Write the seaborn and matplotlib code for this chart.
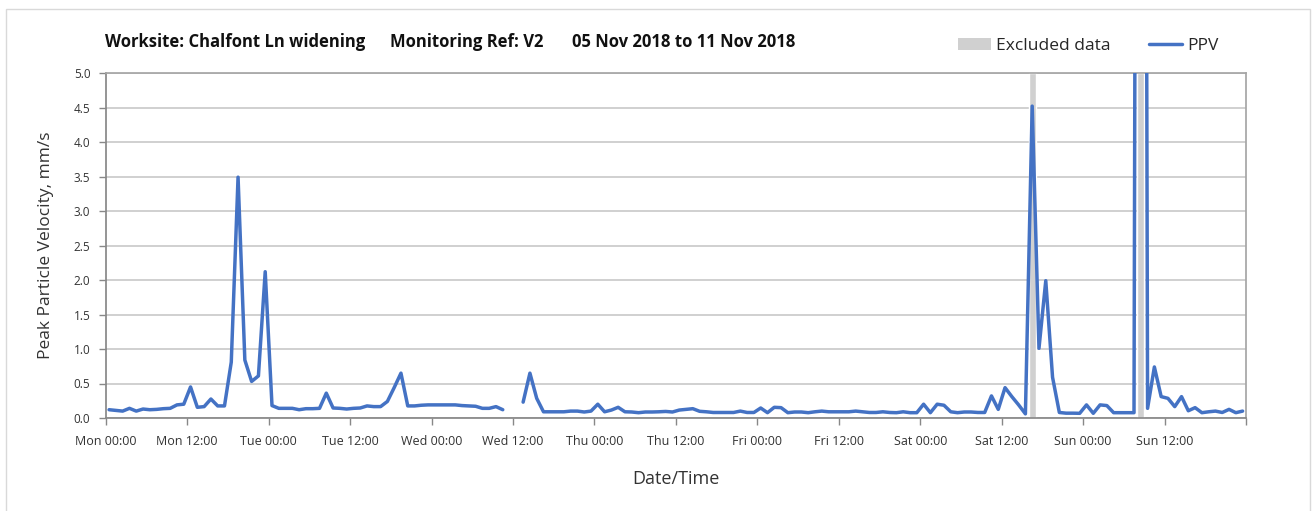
import numpy as np
import pandas as pd
import matplotlib
matplotlib.use("Agg")
import matplotlib.pyplot as plt
import matplotlib.dates as mdates
from matplotlib.patches import Patch, Rectangle
from matplotlib.lines import Line2D
import seaborn as sns

nan = np.nan

# hourly PPV readings (mm/s), Mon 05 Nov 2018 00:30 onwards
ppv = [
    # Mon
    0.12, 0.11, 0.10, 0.14, 0.10, 0.13, 0.12, 0.125, 0.135, 0.14, 0.19, 0.20,
    0.45, 0.155, 0.165, 0.275, 0.175, 0.175, 0.81, 3.49, 0.84, 0.53, 0.61, 2.12,
    # Tue
    0.18, 0.14, 0.14, 0.14, 0.12, 0.135, 0.135, 0.14, 0.36, 0.145, 0.14, 0.13,
    0.14, 0.145, 0.175, 0.165, 0.165, 0.24, 0.44, 0.65, 0.175, 0.175, 0.185, 0.19,
    # Wed
    0.19, 0.19, 0.19, 0.19, 0.18, 0.175, 0.17, 0.14, 0.14, 0.165, 0.12, nan,
    nan, 0.23, 0.65, 0.285, 0.09, 0.09, 0.09, 0.09, 0.10, 0.10, 0.087, 0.10,
    # Thu
    0.20, 0.09, 0.115, 0.155, 0.09, 0.087, 0.077, 0.087, 0.087, 0.09, 0.095, 0.087,
    0.115, 0.125, 0.135, 0.097, 0.09, 0.08, 0.08, 0.08, 0.08, 0.10, 0.08, 0.08,
    # Fri
    0.145, 0.077, 0.155, 0.15, 0.077, 0.087, 0.087, 0.077, 0.09, 0.10, 0.09, 0.09,
    0.09, 0.09, 0.10, 0.09, 0.08, 0.08, 0.09, 0.08, 0.077, 0.09, 0.077, 0.077,
    # Sat
    0.20, 0.077, 0.20, 0.185, 0.09, 0.077, 0.087, 0.087, 0.08, 0.08, 0.32, 0.125,
    0.44, 0.31, 0.19, 0.06, 4.52, 1.01, 1.99, 0.59, 0.08, 0.07, 0.07, 0.068,
    # Sun
    0.19, 0.068, 0.19, 0.18, 0.077, 0.077, 0.077, 0.077, 40.0, 0.14, 0.74, 0.31,
    0.285, 0.165, 0.31, 0.105, 0.15, 0.077, 0.09, 0.10, 0.08, 0.125, 0.077, 0.10,
]
excluded_times = ["2018-11-10 16:30", "2018-11-11 08:30"]
excluded_height = [5.0, 5.0]

title_parts = ["Worksite: Chalfont Ln widening", "Monitoring Ref: V2",
               "05 Nov 2018 to 11 Nov 2018"]

sns.set_theme(style="white")
plt.rcParams["font.family"] = ["Open Sans", "DejaVu Sans"]

times = pd.date_range("2018-11-05 00:30", periods=len(ppv), freq="h")
df = pd.DataFrame({"time": times, "ppv": ppv})
df["segment"] = df["ppv"].isna().cumsum()
df = df.dropna()

fig = plt.figure(figsize=(13.12, 5.11), dpi=100)
ax = fig.add_axes([105.7 / 1312, 1 - 418 / 511, (1246 - 105.7) / 1312, 345 / 511])

ax.bar(pd.to_datetime(excluded_times), excluded_height, width=1 / 24,
       color="#d0d0d0", zorder=1)
sns.lineplot(data=df, x="time", y="ppv", units="segment", estimator=None,
             color="#4472C4", linewidth=2.5, ax=ax, zorder=3)

ax.set_xlim(pd.Timestamp("2018-11-05"), pd.Timestamp("2018-11-12"))
ax.set_ylim(0, 5)

yt = np.arange(0, 5.01, 0.5)
ax.set_yticks(yt)
ax.set_yticklabels([f"{v:.1f}" for v in yt], fontsize=8.5, color="#333333")

xt = pd.date_range("2018-11-05", "2018-11-12", freq="12h")
ax.set_xticks(xt)
ax.set_xticklabels([t.strftime("%a %H:%M") for t in xt[:-1]] + [""],
                   fontsize=9, color="#333333")
ax.xaxis.set_minor_locator(mdates.DayLocator())

ax.grid(axis="y", which="major", color="#c8c8c8", linewidth=1.2, zorder=0)
ax.grid(axis="x", which="minor", color="#dcdcdc", linewidth=1.2, zorder=0)
ax.grid(axis="x", which="major", visible=False)
ax.set_axisbelow(True)

ax.tick_params(axis="both", which="major", direction="out", length=5,
               width=1, color="#888888", left=True, bottom=True)
ax.tick_params(axis="x", which="major", pad=7)
ax.tick_params(axis="y", which="major", pad=6)
ax.tick_params(which="minor", length=0)
for side in ["left", "bottom"]:
    ax.spines[side].set_color("#888888")
for side in ["top", "right"]:
    ax.spines[side].set_color("#a6a6a6")

ax.set_xlabel("Date/Time", fontsize=13, color="#333333", labelpad=16)
ax.set_ylabel("Peak Particle Velocity, mm/s", fontsize=12.5, color="#333333",
              labelpad=14)

# title made of three pieces like the original header
for xpos, txt in zip([105, 390, 572], title_parts):
    fig.text(xpos / 1312, 1 - 42 / 511, txt, fontsize=12, fontweight="bold",
             va="center", ha="left", color="#111111")

handles = [Patch(facecolor="#d0d0d0", edgecolor="none"),
           Line2D([0], [0], color="#4472C4", linewidth=2.5)]
fig.legend(handles, ["Excluded data", "PPV"], loc="center",
           bbox_to_anchor=(1088 / 1312, 1 - 46 / 511), ncol=2, frameon=False,
           fontsize=12.5, columnspacing=2.2, handlelength=1.9, handleheight=0.7,
           handletextpad=0.3)

fig.add_artist(Rectangle((6 / 1312, -0.02), 1304 / 1312, 1.02 - 9 / 511,
                         transform=fig.transFigure, fill=False,
                         edgecolor="#d9d9d9", linewidth=1))

fig.savefig("out.png", dpi=100)
